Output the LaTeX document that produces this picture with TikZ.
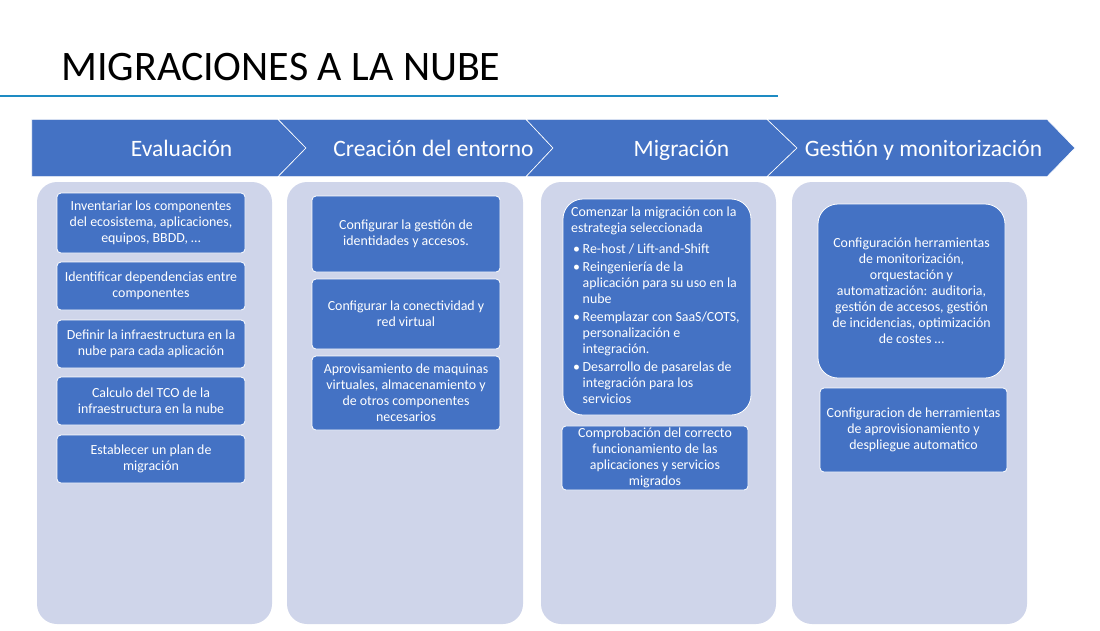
\documentclass[tikz,border=0pt]{standalone}
\usepackage{fontspec}
\setmainfont{Carlito}
\definecolor{sablue}{HTML}{4472C4}
\definecolor{salight}{HTML}{CFD5EA}
\definecolor{saline}{HTML}{1E8BC3}
\begin{document}
\begin{tikzpicture}[x=1pt,y=-1pt,
  colbg/.style={fill=salight, draw=none, rounded corners=20pt, inner sep=0pt},
  stepbox/.style={draw=white, line width=0.8pt, fill=sablue, rounded corners=4pt,
    text=white, align=center, font=\fontsize{13.9}{16}\selectfont, inner sep=2pt},
  bigbox/.style={stepbox, rounded corners=20pt},
  chev/.style={fill=sablue, draw=white, line width=0.6pt},
  head/.style={text=white, font=\fontsize{23.5}{28}\selectfont, inner sep=0pt, anchor=base},
  ttl/.style={font=\fontsize{42}{48}\selectfont, inner sep=0pt, anchor=base west}
]
\useasboundingbox (0,0) rectangle (1100,630);

% title
\node[ttl] (title) at (61,80) {MIGRACIONES A LA NUBE};
\draw[saline, line width=2.5pt] (0,96) -- (778,96);

% chevrons
\draw[chev] (31.7,119.3) -- (278,119.3) -- (306,148) -- (278,176.7) -- (31.7,176.7) -- cycle;
\draw[chev] (278,119.3) -- (526,119.3) -- (553,148) -- (526,176.7) -- (278,176.7) -- (306,148) -- cycle;
\draw[chev] (526,119.3) -- (767,119.3) -- (797,148) -- (767,176.7) -- (526,176.7) -- (553,148) -- cycle;
\draw[chev] (767,119.3) -- (1047,119.3) -- (1075,148) -- (1047,176.7) -- (767,176.7) -- (797,148) -- cycle;

\node[head] (h1) at (181.6,156) {Evaluación};
\node[head] (h2) at (433.5,156) {Creación del entorno};
\node[head] (h3) at (681.5,156) {Migración};
\node[head] (h4) at (923.5,156) {Gestión y monitorización};

% column backgrounds
\node[colbg, minimum width=235pt, minimum height=442pt] (c1) at (154.5,403) {};
\node[colbg, minimum width=236pt, minimum height=442pt] (c2) at (405,403) {};
\node[colbg, minimum width=235pt, minimum height=442pt] (c3) at (658.5,403) {};
\node[colbg, minimum width=235pt, minimum height=442pt] (c4) at (909.5,403) {};

% column 1
\node[stepbox, minimum width=188pt, minimum height=60pt] (a1) at (151,223)
  {Inventariar los componentes\\del ecosistema, aplicaciones,\\equipos, BBDD, \dots};
\node[stepbox, minimum width=188pt, minimum height=48pt] (a2) at (151,286)
  {Identificar dependencias entre\\componentes};
\node[stepbox, minimum width=188pt, minimum height=48pt] (a3) at (151,344)
  {Definir la infraestructura en la\\nube para cada aplicación};
\node[stepbox, minimum width=188pt, minimum height=48pt] (a4) at (151,401)
  {Calculo del TCO de la\\infraestructura en la nube};
\node[stepbox, minimum width=188pt, minimum height=48pt] (a5) at (151,459)
  {Establecer un plan de\\migración};

% column 2
\node[stepbox, minimum width=188pt, minimum height=76pt] (b1) at (406,234)
  {Configurar la gestión de\\identidades y accesos.};
\node[stepbox, minimum width=188pt, minimum height=70pt] (b2) at (406,314)
  {Configurar la conectividad y\\red virtual};
\node[stepbox, minimum width=188pt, minimum height=74pt] (b3) at (406,393)
  {Aprovisamiento de maquinas\\virtuales, almacenamiento y\\de otros componentes\\necesarios};

% column 3
\node[bigbox, minimum width=188pt, minimum height=216pt] (m1) at (657,307) {};
\node[text=white, font=\fontsize{13.9}{15.8}\selectfont, align=left, inner sep=0pt,
      anchor=north west] (m1t) at (571,207)
  {Comenzar la migración con la\\
   estrategia seleccionada\\[5pt]
   \makebox[11.5pt][l]{\hspace{2pt}\textbullet}Re-host / Lift-and-Shift\\[2.5pt]
   \makebox[11.5pt][l]{\hspace{2pt}\textbullet}Reingeniería de la\\
   \hspace*{11.5pt}aplicación para su uso en la\\
   \hspace*{11.5pt}nube\\[2.5pt]
   \makebox[11.5pt][l]{\hspace{2pt}\textbullet}Reemplazar con SaaS/COTS,\\
   \hspace*{11.5pt}personalización e\\
   \hspace*{11.5pt}integración.\\[2.5pt]
   \makebox[11.5pt][l]{\hspace{2pt}\textbullet}Desarrollo de pasarelas de\\
   \hspace*{11.5pt}integración para los\\
   \hspace*{11.5pt}servicios};
\node[stepbox, minimum width=186pt, minimum height=62pt] (m2) at (655,458)
  {Comprobación del correcto\\funcionamiento de las\\aplicaciones y servicios\\migrados};

% column 4
\node[bigbox, minimum width=187pt, minimum height=174pt] (g1) at (911.5,291)
  {Configuración herramientas\\de monitorización,\\orquestación y\\automatización: auditoria,\\gestión de accesos, gestión\\de incidencias, optimización\\de costes \dots};
\node[stepbox, minimum width=187pt, minimum height=84pt] (g2) at (913.5,430)
  {Configuracion de herramientas\\de aprovisionamiento y\\despliegue automatico};
\end{tikzpicture}
\end{document}
